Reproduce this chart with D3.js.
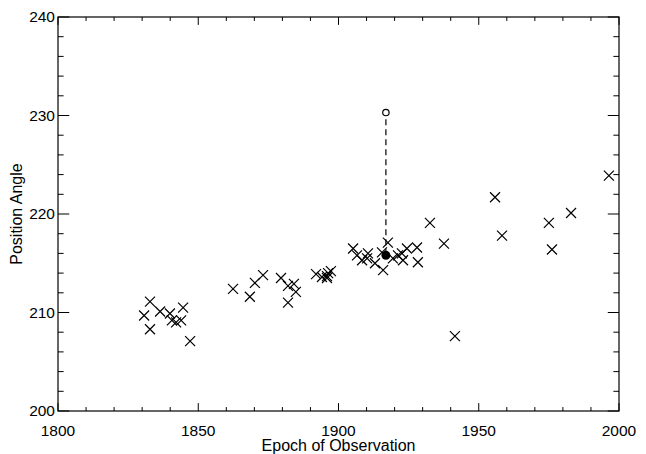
<!DOCTYPE html>
<html>
<head>
<meta charset="utf-8">
<script src="https://cdn.jsdelivr.net/npm/d3@7"></script>
<style>
  body { margin: 0; background: #fff; }
  svg { display: block; font-family: "Liberation Sans", Arial, sans-serif; }
</style>
</head>
<body>
<svg id="chart" width="646" height="454"></svg>
<script>
// observation epochs and measured position angles
const epochs = [
  1830.7, 1832.8, 1832.8, 1836.4, 1839.9, 1840.6, 1842.1, 1843.9, 1844.6, 1847.1,
  1862.4, 1868.4, 1870.2, 1873.1, 1879.5, 1882.0, 1884.1, 1884.8, 1882.0,
  1892.0, 1894.1, 1895.9, 1896.3, 1897.3, 1895.9,
  1905.2, 1906.6, 1908.4, 1910.5, 1910.2, 1913.0, 1915.9, 1915.5, 1917.6,
  1919.4, 1921.2, 1922.6, 1923.0, 1924.4, 1928.0, 1928.3, 1932.6, 1937.6, 1941.5,
  1955.8, 1958.3, 1975.0, 1976.1, 1982.9, 1996.4
];
const angles = [
  209.7, 211.1, 208.3, 210.1, 209.9, 209.2, 209.0, 209.2, 210.5, 207.1,
  212.4, 211.6, 213.0, 213.8, 213.5, 212.7, 212.9, 212.1, 211.0,
  213.9, 213.6, 213.7, 214.0, 214.2, 213.5,
  216.5, 215.8, 215.3, 216.0, 215.5, 215.0, 214.3, 216.1, 217.1,
  215.5, 215.8, 216.0, 215.3, 216.5, 216.6, 215.1, 219.1, 217.0, 207.6,
  221.7, 217.8, 219.1, 216.4, 220.1, 223.9
];
// highlighted epoch: observed (filled) and predicted (open)
const markEpoch = [1916.9];
const markAngle = [215.8, 230.3];

const xTicks = [1800, 1850, 1900, 1950, 2000];
const yTicks = [200, 210, 220, 230, 240];

const margin = { top: 17, right: 27, bottom: 43, left: 58 };
const width = 646, height = 454;

const svg = d3.select("#chart");

const x = d3.scaleLinear().domain([1800, 2000])
  .range([margin.left, width - margin.right]);
const y = d3.scaleLinear().domain([200, 240])
  .range([height - margin.bottom, margin.top]);

const pw = x.range()[1] - x.range()[0];
const ph = y.range()[0] - y.range()[1];
const xMajor = 0.02 * ph, yMajor = 0.02 * pw;
const xMinor = d3.range(1800, 2001, 10);
const yMinor = d3.range(200, 241, 2);

// frame
svg.append("rect")
  .attr("x", x.range()[0]).attr("y", y.range()[1])
  .attr("width", pw).attr("height", ph)
  .attr("fill", "none").attr("stroke", "#000").attr("stroke-width", 1.2);

// inward ticks on all four sides
const tg = svg.append("g").attr("stroke", "#000").attr("stroke-width", 1);
xMinor.forEach(v => {
  const len = xTicks.includes(v) ? xMajor : xMajor / 2;
  tg.append("line").attr("x1", x(v)).attr("x2", x(v))
    .attr("y1", y(200)).attr("y2", y(200) - len);
  tg.append("line").attr("x1", x(v)).attr("x2", x(v))
    .attr("y1", y(240)).attr("y2", y(240) + len);
});
yMinor.forEach(v => {
  const len = yTicks.includes(v) ? yMajor : yMajor / 2;
  tg.append("line").attr("y1", y(v)).attr("y2", y(v))
    .attr("x1", x(1800)).attr("x2", x(1800) + len);
  tg.append("line").attr("y1", y(v)).attr("y2", y(v))
    .attr("x1", x(2000)).attr("x2", x(2000) - len);
});

// tick labels
svg.append("g").selectAll("text").data(xTicks).join("text")
  .attr("x", d => x(d)).attr("y", y(200) + 25)
  .attr("text-anchor", "middle").attr("font-size", 15.5)
  .text(d => d);
svg.append("g").selectAll("text").data(yTicks).join("text")
  .attr("x", x(1800) - 3).attr("y", d => y(d) + 5)
  .attr("text-anchor", "end").attr("font-size", 15.5)
  .text(d => d);

// axis titles
svg.append("text")
  .attr("x", (x.range()[0] + x.range()[1]) / 2).attr("y", y(200) + 40)
  .attr("text-anchor", "middle").attr("font-size", 16)
  .text("Epoch of Observation");
svg.append("text")
  .attr("transform", `translate(22,${(y.range()[0] + y.range()[1]) / 2}) rotate(-90)`)
  .attr("text-anchor", "middle").attr("font-size", 16)
  .text("Position Angle");

// crosses
const s = 5;
svg.append("g").selectAll("path").data(epochs).join("path")
  .attr("d", (d, i) => {
    const cx = x(d), cy = y(angles[i]);
    return `M${cx - s},${cy - s}L${cx + s},${cy + s}M${cx - s},${cy + s}L${cx + s},${cy - s}`;
  })
  .attr("stroke", "#000").attr("stroke-width", 1.2).attr("fill", "none");

// dashed connector between observed and predicted
svg.append("line")
  .attr("x1", x(markEpoch[0])).attr("x2", x(markEpoch[0]))
  .attr("y1", y(markAngle[0])).attr("y2", y(markAngle[1]) + 3.5)
  .attr("stroke", "#000").attr("stroke-width", 1.2)
  .attr("stroke-dasharray", "6,4");

svg.append("circle")
  .attr("cx", x(markEpoch[0])).attr("cy", y(markAngle[0])).attr("r", 4.5)
  .attr("fill", "#000");
svg.append("circle")
  .attr("cx", x(markEpoch[0])).attr("cy", y(markAngle[1])).attr("r", 3.2)
  .attr("fill", "#fff").attr("stroke", "#000").attr("stroke-width", 1.2);
</script>
</body>
</html>
